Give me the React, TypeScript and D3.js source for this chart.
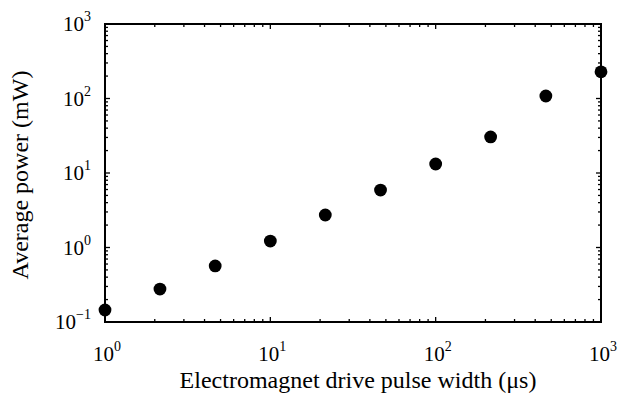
import React from "react";
import * as d3 from "d3";

const pulseWidths = [1, 2.15, 4.64, 10, 21.5, 46.4, 100, 215, 464, 1000];
const avgPower = [0.145, 0.277, 0.565, 1.22, 2.73, 5.9, 13.2, 30.5, 108, 228];
const xTickExps = [0, 1, 2, 3];
const yTickExps = [-1, 0, 1, 2, 3];
const xTitle = "Electromagnet drive pulse width (\u03bcs)";
const yTitle = "Average power (mW)";

const W = 618, H = 396;
const L = 105, R = 601, T = 24, B = 322;
const FONT = "'Liberation Serif', 'Times New Roman', serif";

export default function App() {
  const x = d3.scaleLog().domain([1, 1000]).range([L, R]);
  const y = d3.scaleLog().domain([0.1, 1000]).range([B, T]);

  const minorX: number[] = [];
  for (let e = 0; e < 3; e++) for (let k = 2; k <= 9; k++) minorX.push(k * Math.pow(10, e));
  const minorY: number[] = [];
  for (let e = -1; e < 3; e++) for (let k = 2; k <= 9; k++) minorY.push(k * Math.pow(10, e));

  const MAJ = 5, MIN = 3;

  return (
    <svg width={W} height={H} style={{ position: "absolute", left: 0, top: 0, background: "#fff" }}>
      <rect x={0} y={0} width={W} height={H} fill="#fff" />
      <g stroke="#000" strokeWidth={1.3}>
        {xTickExps.map((e) => {
          const px = x(Math.pow(10, e));
          return (
            <g key={"xm" + e}>
              <line x1={px} x2={px} y1={B} y2={B - MAJ} />
              <line x1={px} x2={px} y1={T} y2={T + MAJ} />
            </g>
          );
        })}
        {minorX.map((v, i) => {
          const px = x(v);
          return (
            <g key={"xn" + i}>
              <line x1={px} x2={px} y1={B} y2={B - MIN} />
              <line x1={px} x2={px} y1={T} y2={T + MIN} />
            </g>
          );
        })}
        {yTickExps.map((e) => {
          const py = y(Math.pow(10, e));
          return (
            <g key={"ym" + e}>
              <line x1={L} x2={L + MAJ} y1={py} y2={py} />
              <line x1={R} x2={R - MAJ} y1={py} y2={py} />
            </g>
          );
        })}
        {minorY.map((v, i) => {
          const py = y(v);
          return (
            <g key={"yn" + i}>
              <line x1={L} x2={L + MIN} y1={py} y2={py} />
              <line x1={R} x2={R - MIN} y1={py} y2={py} />
            </g>
          );
        })}
      </g>
      <rect x={L} y={T} width={R - L} height={B - T} fill="none" stroke="#000" strokeWidth={2} />
      {pulseWidths.map((v, i) => (
        <circle key={i} cx={x(v)} cy={y(avgPower[i])} r={6.4} fill="#000" />
      ))}
      <g fontFamily={FONT} fill="#000">
        {xTickExps.map((e) => (
          <text key={"xl" + e} x={x(Math.pow(10, e)) + 2} y={361} textAnchor="middle" fontSize={21}>
            10<tspan fontSize={14} dy={-10}>{e}</tspan>
          </text>
        ))}
        {yTickExps.map((e) => (
          <text key={"yl" + e} x={91} y={y(Math.pow(10, e)) + 7} textAnchor="end" fontSize={21}>
            10<tspan fontSize={14} dy={-10}>{e === -1 ? "\u22121" : String(e)}</tspan>
          </text>
        ))}
        <text x={358} y={388} textAnchor="middle" fontSize={24}>
          {xTitle}
        </text>
        <text transform={`translate(28, 175) rotate(-90)`} textAnchor="middle" fontSize={24}>
          {yTitle}
        </text>
      </g>
    </svg>
  );
}
